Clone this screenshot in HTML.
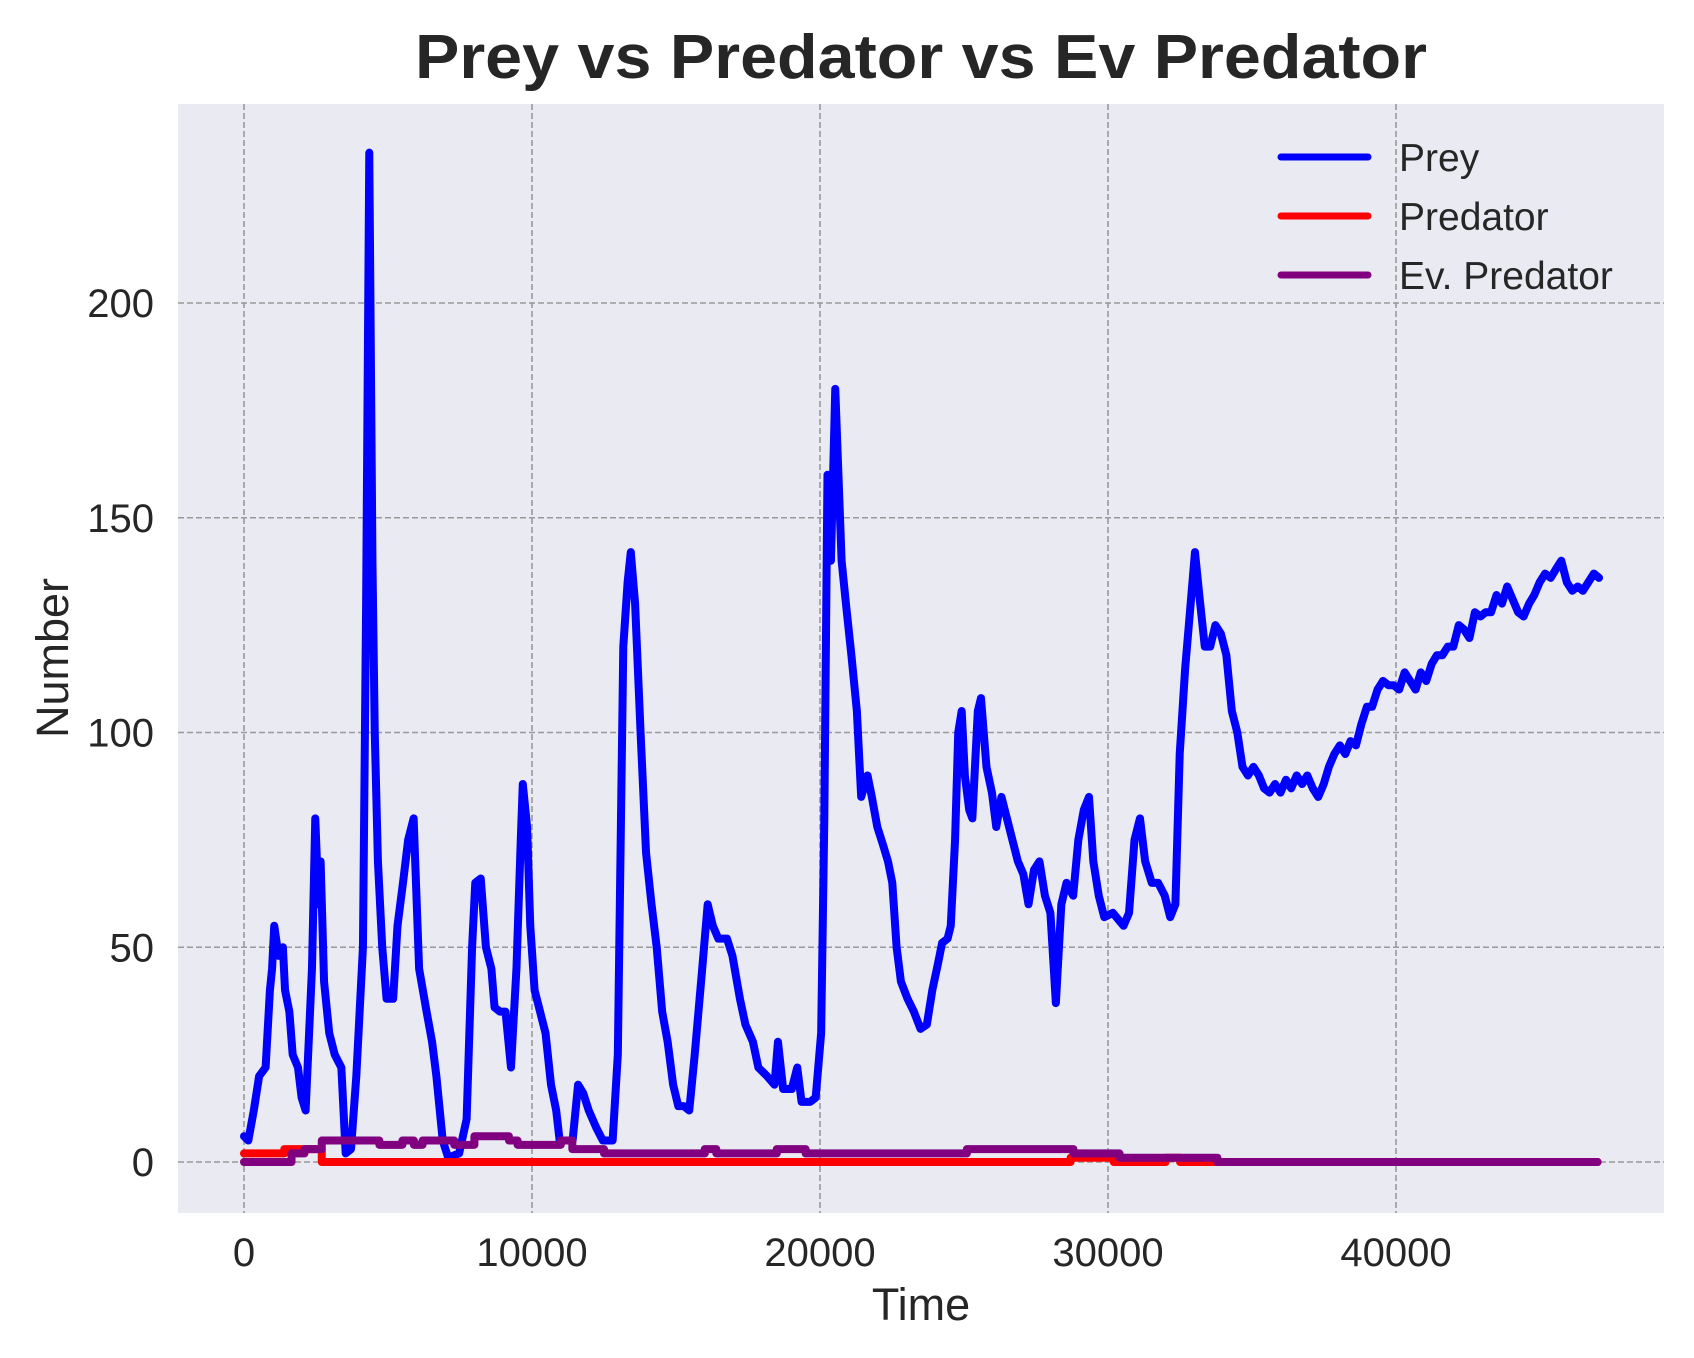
<!DOCTYPE html>
<html><head><meta charset="utf-8"><style>
html,body{margin:0;padding:0;background:#fff;}
svg{display:block;font-family:"Liberation Sans",Arial,sans-serif;}
</style></head><body>
<svg id="chart" width="1694" height="1358" viewBox="0 0 1694 1358">
<rect x="178" y="104" width="1486" height="1109" fill="#eaeaf2"/>
<g id="grid"></g>
<g id="ticks"></g>
<g id="series"></g>
<text x="921" y="78" text-anchor="middle" font-size="62" font-weight="bold" fill="#262626" textLength="1012" lengthAdjust="spacingAndGlyphs">Prey vs Predator vs Ev Predator</text>
<text x="921" y="1320" text-anchor="middle" font-size="45" fill="#262626">Time</text>
<text x="68" y="658" text-anchor="middle" font-size="45" fill="#262626" transform="rotate(-90 68 658)">Number</text>
<g>
<g><line x1="1281" y1="157" x2="1368" y2="157" stroke="#0000ff" stroke-width="7" stroke-linecap="round"/><text x="1399" y="171" font-size="39" fill="#262626">Prey</text></g>
<g><line x1="1281" y1="216" x2="1368" y2="216" stroke="#ff0000" stroke-width="7" stroke-linecap="round"/><text x="1399" y="230" font-size="39" fill="#262626">Predator</text></g>
<g><line x1="1281" y1="275" x2="1368" y2="275" stroke="#800080" stroke-width="7" stroke-linecap="round"/><text x="1399" y="289" font-size="39" fill="#262626">Ev. Predator</text></g>
</g>
</svg>
<script>
const xTicks=[0,10000,20000,30000,40000];
const yTicks=[0,50,100,150,200];
const preyT=[0,150,340,525,750,900,975,1050,1200,1350,1425,1575,1690,1875,2000,2140,2360,2475,2590,2660,2780,2960,3150,3380,3530,3715,3900,4130,4240,4350,4460,4540,4650,4800,4950,5180,5330,5520,5700,5890,6080,6340,6530,6680,6900,7090,7470,7730,7920,8030,8220,8400,8590,8700,8890,9080,9270,9460,9610,9680,9830,9940,10090,10280,10470,10660,10840,10960,11410,11600,11780,11970,12230,12460,12800,12980,13170,13320,13430,13580,13770,13960,14150,14330,14520,14710,14900,15080,15270,15460,15650,15910,16100,16280,16470,16770,16960,17220,17410,17670,17860,18160,18420,18540,18720,19020,19210,19360,19660,19850,20040,20150,20260,20380,20530,20640,20750,20900,21090,21280,21430,21650,21800,21990,22180,22360,22510,22660,22810,23040,23260,23490,23710,23900,24090,24240,24430,24540,24690,24800,24920,25030,25180,25290,25480,25590,25780,25970,26120,26300,26490,26680,26870,27060,27240,27430,27620,27810,28000,28190,28380,28560,28790,28970,29160,29340,29490,29680,29870,30170,30540,30730,30920,31110,31290,31520,31740,31970,32160,32340,32490,32680,32870,33020,33170,33360,33550,33730,33920,34110,34300,34490,34670,34860,35050,35240,35420,35610,35800,35990,36180,36360,36550,36740,36920,37110,37300,37490,37670,37860,38050,38240,38420,38610,38800,38990,39170,39360,39550,39740,39920,40110,40300,40490,40680,40860,41050,41240,41420,41610,41800,41990,42180,42360,42550,42740,42930,43110,43300,43490,43680,43860,44050,44240,44430,44620,44800,44990,45180,45370,45550,45740,45930,46120,46310,46490,46680,46870,47050];
const preyV=[6,5,12,20,22,40,45,55,48,50,40,35,25,22,15,12,45,80,60,70,42,30,25,22,2,3,20,50,130,235,140,100,70,50,38,38,55,65,75,80,45,35,28,20,5,1,2,10,50,65,66,50,45,36,35,35,22,45,75,88,78,55,40,35,30,18,12,5,5,18,16,12,8,5,5,25,120,135,142,130,100,72,60,50,35,28,18,13,13,12,25,45,60,55,52,52,48,38,32,28,22,20,18,28,17,17,22,14,14,15,30,80,160,140,180,160,140,130,118,105,85,90,85,78,74,70,65,50,42,38,35,31,32,40,46,51,52,55,75,100,105,90,82,80,105,108,92,86,78,85,80,75,70,67,60,68,70,62,58,37,60,65,62,75,82,85,70,62,57,58,55,58,75,80,70,65,65,62,57,60,95,115,130,142,132,120,120,125,123,118,105,100,92,90,92,90,87,86,88,86,89,87,90,88,90,87,85,88,92,95,97,95,98,97,102,106,106,110,112,111,111,110,114,112,110,114,112,116,118,118,120,120,125,124,122,128,127,128,128,132,130,134,131,128,127,130,132,135,137,136,138,140,135,133,134,133,135,137,136];
const predT=[0,1400,2700,28700,30200,32000,32500];
const predV=[2,3,0,1,0,1,0];
const evT=[0,1650,2100,2700,4700,5500,5900,6200,7300,8000,9200,9500,11000,11400,12500,16000,16400,18500,19500,25100,28800,30400,33800];
const evV=[0,2,3,5,4,5,4,5,4,6,5,4,5,3,2,3,2,3,2,3,2,1,0];
const tEnd=47000;
const NS='http://www.w3.org/2000/svg';
const X=t=>244+t*0.0288;
const Y=v=>1162-v*4.295;
const grid=document.getElementById('grid'),ticks=document.getElementById('ticks'),series=document.getElementById('series');
function mk(tag,attrs,parent){const e=document.createElementNS(NS,tag);for(const k in attrs)e.setAttribute(k,attrs[k]);parent.appendChild(e);return e;}
xTicks.forEach(t=>{
  const l=mk('line',{x1:X(t),x2:X(t),y1:104,y2:1213,stroke:'#999',"stroke-width":1.6,"stroke-dasharray":'6,3'},grid);
  
  
  const tx=mk('text',{x:X(t),y:1266,"text-anchor":'middle',"font-size":40,fill:'#262626'},ticks);
  tx.textContent=t;
  
  
});
yTicks.forEach(v=>{
  const l=mk('line',{x1:178,x2:1664,y1:Y(v),y2:Y(v),stroke:'#999',"stroke-width":1.6,"stroke-dasharray":'6,3'},grid);
  
  
  const tx=mk('text',{x:154,y:Y(v)+14,"text-anchor":'end',"font-size":40,fill:'#262626'},ticks);
  tx.textContent=v;
  
  
});
function stepPath(ts,vs){let d='M'+X(ts[0])+','+Y(vs[0]);for(let i=1;i<ts.length;i++){d+=' L'+X(ts[i])+','+Y(vs[i-1])+' L'+X(ts[i])+','+Y(vs[i]);}d+=' L'+X(tEnd)+','+Y(vs[vs.length-1]);return d;}
const p1=mk('path',{d:preyT.map((t,i)=>(i?'L':'M')+X(t)+','+Y(preyV[i])).join(' '),fill:'none',stroke:'#0000ff',"stroke-width":8,"stroke-linejoin":'round',"stroke-linecap":'round'},series);


const p2=mk('path',{d:stepPath(predT,predV),fill:'none',stroke:'#ff0000',"stroke-width":8,"stroke-linejoin":'round',"stroke-linecap":'round'},series);


const p3=mk('path',{d:stepPath(evT,evV),fill:'none',stroke:'#800080',"stroke-width":8,"stroke-linejoin":'round',"stroke-linecap":'round'},series);


</script>
</body></html>
